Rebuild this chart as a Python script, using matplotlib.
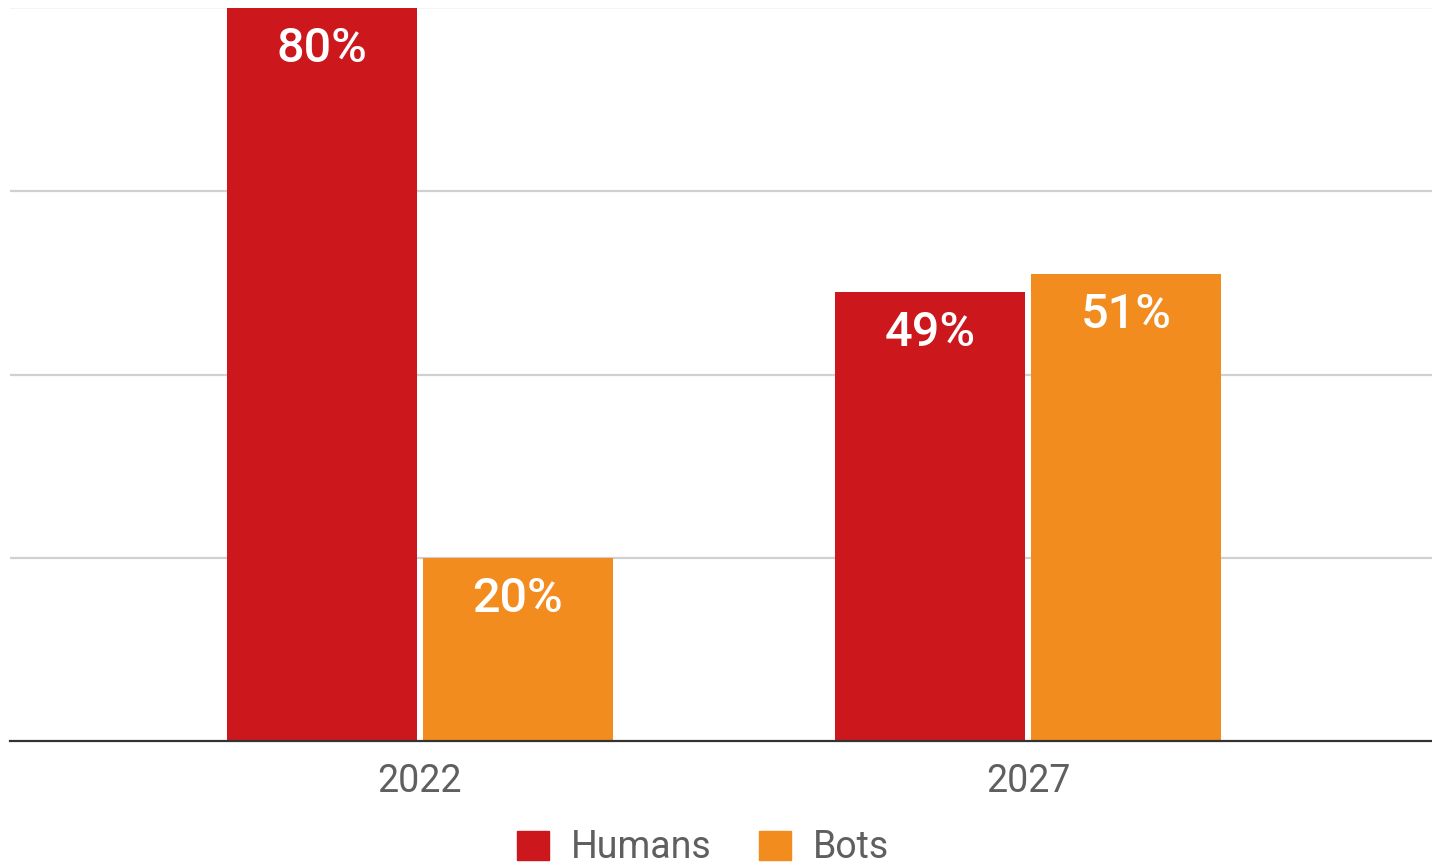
import matplotlib
matplotlib.use("Agg")
import matplotlib.pyplot as plt
import numpy as np
from matplotlib.patches import Patch

categories = ["2022", "2027"]
humans = [80, 49]
bots = [20, 51]
series_names = ["Humans", "Bots"]

RED = "#CC171D"
ORANGE = "#F28C1E"
GRAY = "#5F5F5F"

plt.rcParams['font.family'] = ['Roboto', 'DejaVu Sans']

fig = plt.figure(figsize=(14.32, 8.65), dpi=100)
W, H = 1432, 865
ax = fig.add_axes([10 / W, (H - 741) / H, (1432 - 10) / W, (741 - 8) / H])

x = np.arange(len(categories))
width = 0.3125
off = 0.161
b1 = ax.bar(x - off, humans, width, color=RED, zorder=3, linewidth=0)
b2 = ax.bar(x + off, bots, width, color=ORANGE, zorder=3, linewidth=0)

for bars, vals in ((b1, humans), (b2, bots)):
    for rect, v in zip(bars, vals):
        ax.annotate(f"{v}%", (rect.get_x() + rect.get_width() / 2, v),
                    xytext=(0, -41), textcoords="offset pixels",
                    ha="center", va="center", color="white", fontsize=35,
                    fontweight="medium", zorder=4)

ax.set_xlim(-0.674, 1.664)
ax.set_ylim(0, 80)
ax.set_yticks([20, 40, 60])
ax.yaxis.grid(True, color="#D0D0D0", linewidth=1.6, zorder=0)
ax.axhline(80, color="#F2F2F2", linewidth=1.2, zorder=0)
ax.tick_params(axis="y", left=False, labelleft=False)
ax.set_xticks(x)
ax.set_xticklabels(categories, fontsize=27, color=GRAY)
ax.tick_params(axis="x", length=0, pad=16)
for s in ("top", "right", "left"):
    ax.spines[s].set_visible(False)
ax.spines["bottom"].set_color("#333333")
ax.spines["bottom"].set_linewidth(1.6)
ax.spines["bottom"].set_zorder(5)

handles = [Patch(color=RED), Patch(color=ORANGE)]
fig.legend(handles, series_names, loc="center", bbox_to_anchor=(703 / W, 1 - 848 / H),
           ncol=2, frameon=False, fontsize=27, labelcolor=GRAY,
           handlelength=0.85, handleheight=0.85, handletextpad=0.6, columnspacing=1.25)

fig.savefig("out.png", dpi=100, facecolor="white")
